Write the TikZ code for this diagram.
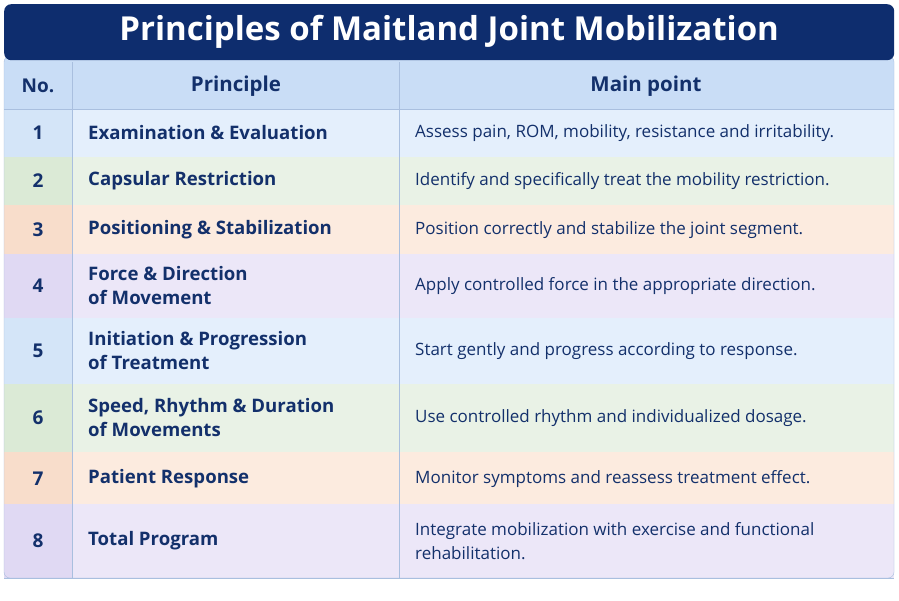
\documentclass[tikz,border=0pt]{standalone}
\usepackage{fontspec}
\setmainfont{Open Sans}
\begin{document}
\begin{tikzpicture}[x=1pt,y=-1pt,
  cell/.style={anchor=west,align=left,text=c-navy,inner sep=0pt,font=\fontsize{17}{24}\selectfont},
  pr/.style={anchor=west,align=left,text=c-navy,inner sep=0pt,font=\bfseries\fontsize{18.6}{24}\selectfont},
  num/.style={anchor=center,text=c-navy,font=\bfseries\fontsize{19}{22}\selectfont}]
\definecolor{c-navy}{HTML}{13306B}
\definecolor{c-title}{HTML}{0E2D6E}
\definecolor{c-line}{HTML}{A9BFDF}
\definecolor{c-head}{HTML}{C9DDF6}
\definecolor{c-b}{HTML}{E4EFFC}\definecolor{c-bd}{HTML}{D4E5F8}
\definecolor{c-g}{HTML}{E9F2E6}\definecolor{c-gd}{HTML}{DBEAD6}
\definecolor{c-p}{HTML}{FCEBDF}\definecolor{c-pd}{HTML}{F8DDCB}
\definecolor{c-l}{HTML}{ECE7F8}\definecolor{c-ld}{HTML}{E0D9F3}
\useasboundingbox (0,0) rectangle (899,600);
\fill[white] (0,0) rectangle (899,600);
\fill[c-head, rounded corners=6pt] (4,56) rectangle (894,578);
\def\rows{109/157/b/1,157/205/g/2,205/254/p/3,254/318/l/4,318/384/b/5,384/452/g/6,452/504/p/7,504/578/l/8}
\foreach \a/\b/\c/\n in \rows {
  \fill[c-\c] (4,\a) rectangle (894,\b);
  \fill[c-\c d] (4,\a) rectangle (72,\b);
  \draw[c-line] (4,\b) -- (894,\b);
}
\draw[c-line] (72,62) -- (72,578) (399,62) -- (399,578) (4,109) -- (894,109);
\draw[c-line, rounded corners=6pt] (4,56) rectangle (894,578);
\node[fill=c-title, rounded corners=7pt, minimum width=890pt, minimum height=56pt, anchor=north west, text=white, font=\bfseries\fontsize{33}{36}\selectfont] (title) at (4,4) {Principles of Maitland Joint Mobilization};
\node[num] (hn) at (38,86) {No.};
\node[num, font=\bfseries\fontsize{20.5}{22}\selectfont] (hp) at (236,86) {Principle};
\node[num, font=\bfseries\fontsize{20.5}{22}\selectfont] (hm) at (646,86) {Main point};
\foreach \n/\y/\p/\m in {
 1/133/{Examination \& Evaluation}/{Assess pain, ROM, mobility, resistance and irritability.},
 2/181/{Capsular Restriction}/{Identify and specifically treat the mobility restriction.},
 3/230/{Positioning \& Stabilization}/{Position correctly and stabilize the joint segment.},
 4/286/{Force \& Direction\\of Movement}/{Apply controlled force in the appropriate direction.},
 5/351/{Initiation \& Progression\\of Treatment}/{Start gently and progress according to response.},
 6/418/{Speed, Rhythm \& Duration\\of Movements}/{Use controlled rhythm and individualized dosage.},
 7/479/{Patient Response}/{Monitor symptoms and reassess treatment effect.},
 8/541/{Total Program}/{Integrate mobilization with exercise and functional\\rehabilitation.}} {
  \node[num] (n\n) at (38,\y) {\n};
  \node[pr] (p\n) at (88,\y) {\p};
  \node[cell] (m\n) at (415,\y) {\m};
}
\end{tikzpicture}
\end{document}
